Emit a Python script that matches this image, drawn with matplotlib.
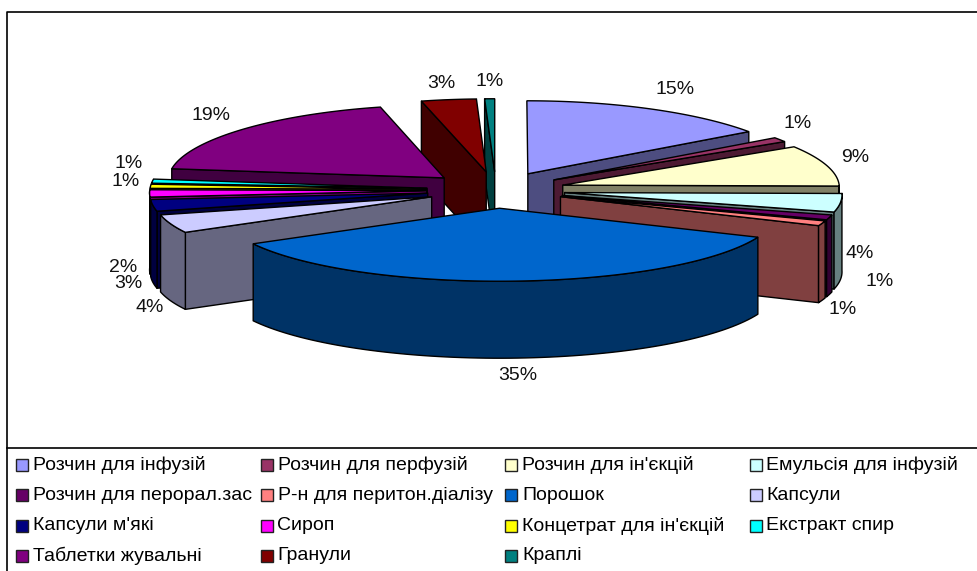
import numpy as np
import matplotlib
matplotlib.use("Agg")
import matplotlib.pyplot as plt
from matplotlib.colors import to_rgb
from matplotlib.patches import Polygon, Rectangle

categories = ["Розчин для інфузій", "Розчин для перфузій", "Розчин для ін'єкцій", "Емульсія для інфузій",
              "Розчин для перорал.зас", "Р-н для перитон.діалізу", "Порошок", "Капсули",
              "Капсули м'які", "Сироп", "Концетрат для ін'єкцій", "Екстракт спир",
              "Таблетки жувальні", "Гранули", "Краплі"]
values = [15.2, 1.0, 9.0, 4.1, 1.1, 1.1, 35.4, 4.1, 2.6, 1.6, 0.9, 0.9, 19.1, 3.3, 0.6]
colors = ["#9999FF", "#993366", "#FFFFCC", "#CCFFFF", "#660066", "#FF8080", "#0066CC", "#CCCCFF",
          "#000080", "#FF00FF", "#FFFF00", "#00FFFF", "#800080", "#800000", "#008080"]

# layout, all in pixels of the 978x571 picture
cx, cy = 496, 190
rx, ry = 277, 73
explode = 0.25
depth = 77
persp = 0.025
label_pos = [(675, 89), (798, 124), (855, 158), (860, 254), (880, 281), (843, 310), (518, 375), (150, 308),
             (128, 284), (123, 267), (126, 182), (129, 164), (211, 115), (441, 83), (490, 82)]
plt.rcParams["font.family"] = ["Liberation Sans", "DejaVu Sans"]

fig = plt.figure(figsize=(9.78, 5.71), dpi=100)
ax = fig.add_axes([0, 0, 1, 1])
ax.set_xlim(0, 978)
ax.set_ylim(571, 0)
ax.axis("off")


def point(apex, t):
    x = apex[0] + rx * np.sin(t)
    y = apex[1] - ry * np.cos(t)
    # front of the pie is a little wider than the back
    return cx + (x - cx) * (1 + persp * (y - cy) / ry), y


def wall(pts, color, z):
    # extrude a line of the top face downwards
    pts = np.array(pts)
    low = pts + [0, depth]
    ax.add_patch(Polygon(np.vstack([pts, low[::-1]]), closed=True, fc=color, ec="black", lw=1.0,
                         joinstyle="round", zorder=z))


edges = np.radians(np.cumsum([0] + values) / sum(values) * 360)
mids = (edges[:-1] + edges[1:]) / 2

# back slices first, the powder slice comes last
order = np.argsort(-np.cos(mids))
for z, i in enumerate(order):
    t1, t2, m = edges[i], edges[i + 1], mids[i]
    apex = (cx + explode * rx * np.sin(m), cy - explode * ry * np.cos(m))
    shade = tuple(c * 0.5 for c in to_rgb(colors[i]))
    base = 3 * z + 2

    if np.sin(t1) < 0:
        wall([apex, point(apex, t1)], shade, base)
    if np.sin(t2) > 0:
        wall([apex, point(apex, t2)], shade, base)

    lo, hi = max(t1, np.pi / 2), min(t2, 3 * np.pi / 2)
    if hi > lo:
        ts = np.linspace(lo, hi, 80)
        wall([point(apex, t) for t in ts], shade, base + 1)

    ts = np.linspace(t1, t2, 120)
    top = [apex] + [point(apex, t) for t in ts]
    ax.add_patch(Polygon(top, closed=True, fc=colors[i], ec="black", lw=1.0, zorder=base + 2))

for v, (x, y) in zip(values, label_pos):
    ax.text(x, y, f"{round(v)}%", ha="center", va="center", fontsize=14, color="#111111", zorder=100)

# chart frame and legend box
ax.plot([7, 7, 978], [571, 12, 12], color="black", lw=1.2, zorder=100, clip_on=False)
ax.plot([7, 978], [448, 448], color="black", lw=1.2, zorder=100)

for k, name in enumerate(categories):
    col_x = 16 + 244.5 * (k % 4)
    row_y = 465 + 30.3 * (k // 4)
    ax.add_patch(Rectangle((col_x, row_y - 6), 12, 12, fc=colors[k], ec="#222222", lw=1.0, zorder=100))
    ax.text(col_x + 17, row_y, name, ha="left", va="center", fontsize=14, color="black", zorder=100)

fig.savefig("out.png", dpi=100)
